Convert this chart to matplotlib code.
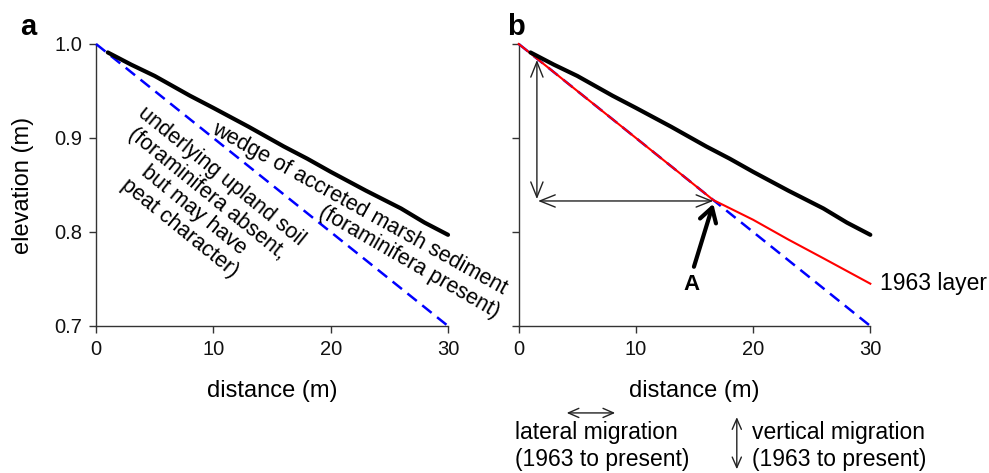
import matplotlib
matplotlib.use("Agg")
import matplotlib.pyplot as plt
from matplotlib.patches import FancyArrowPatch

plt.rcParams['font.family'] = ['Liberation Sans', 'DejaVu Sans']

# data
upland_x = [0, 30]
upland_y = [1.0, 0.7]

marsh_x = [1, 3, 5, 8, 10, 13, 16, 18, 20, 23, 26, 28, 30]
marsh_y = [0.991, 0.978, 0.966, 0.945, 0.932, 0.912, 0.891, 0.878, 0.864, 0.844, 0.825, 0.810, 0.797]

layer_x = [0, 5, 10, 16.6, 20, 23, 26, 30]
layer_y = [1.0, 0.95, 0.90, 0.834, 0.813, 0.792, 0.772, 0.745]

x_ticks = [0, 10, 20, 30]
y_ticks = [0.7, 0.8, 0.9, 1.0]
y_tick_labels = ['0.7', '0.8', '0.9', '1.0']

point_a = (16.6, 0.833)        # where the 1963 layer leaves the upland surface
vert_arrow_x = 1.55
vert_arrow_top = 0.983
horiz_arrow_x0 = 1.65
a_arrow_tail = (14.95, 0.763)
a_label = (14.7, 0.744)

SPINE = '#333333'

fig = plt.figure(figsize=(9.89, 4.73), dpi=100)
ax_a = fig.add_axes([0.0971, 0.3108, 0.3559, 0.5962])
ax_b = fig.add_axes([0.5245, 0.3108, 0.3555, 0.5962])


def style_axes(ax, ylabels=True):
    ax.set_xlim(0, 30)
    ax.set_ylim(0.7, 1.0)
    for s in ['top', 'right']:
        ax.spines[s].set_visible(False)
    for s in ['left', 'bottom']:
        ax.spines[s].set_color(SPINE)
        ax.spines[s].set_linewidth(1.0)
    ax.set_xticks(x_ticks)
    ax.set_yticks(y_ticks)
    ax.tick_params(direction='out', length=5, width=1.0, color=SPINE,
                   labelsize=14.5, pad=5, labelcolor='#111111')
    if ylabels:
        ax.set_yticklabels(y_tick_labels)
    else:
        ax.set_yticklabels([])
    ax.set_xlabel('distance (m)', fontsize=17)
    ax.xaxis.label.set_va('center')
    ax.xaxis.set_label_coords(0.5, -0.232)
    ax.grid(False)


def draw_surfaces(ax, with_layer=False):
    ax.plot(upland_x, upland_y, color='#0000ff', lw=1.8, dashes=(4.8, 2.8),
            clip_on=False, zorder=3)
    if with_layer:
        ax.plot(layer_x, layer_y, color='#ff0000', lw=1.5, clip_on=False, zorder=4)
    ax.plot(marsh_x, marsh_y, color='black', lw=3.0, solid_capstyle='round',
            clip_on=False, zorder=5)


# ---- panel a ----
style_axes(ax_a)
draw_surfaces(ax_a)
ax_a.set_ylabel('elevation (m)', fontsize=17)
ax_a.yaxis.label.set_va('center')
ax_a.yaxis.set_label_coords(-0.207, 0.5)

ax_a.text(22.4, 0.825, 'wedge of accreted marsh sediment', fontsize=15.5,
          rotation=-29, rotation_mode='anchor', ha='center', va='center',
          clip_on=False)
ax_a.text(26.7, 0.768, '(foraminifera present)', fontsize=15.5,
          rotation=-30, rotation_mode='anchor', ha='center', va='center',
          clip_on=False)
ax_a.text(8.9, 0.832, 'underlying upland soil\n(foraminifera absent,\nbut may have\npeat character)',
          fontsize=15.5, rotation=-39, rotation_mode='anchor', ha='center',
          va='center', multialignment='center', linespacing=1.08)

# ---- panel b ----
style_axes(ax_b, ylabels=False)
draw_surfaces(ax_b, with_layer=True)

thin = dict(arrowstyle='<->,head_length=0.55,head_width=0.22', color='#222222',
            lw=1.0, shrinkA=0, shrinkB=0, mutation_scale=20)
ax_b.annotate('', xy=(vert_arrow_x, point_a[1] + 0.002), xytext=(vert_arrow_x, vert_arrow_top),
              arrowprops=thin, zorder=6)
ax_b.annotate('', xy=point_a, xytext=(horiz_arrow_x0, point_a[1]),
              arrowprops=thin, zorder=6)

ax_b.annotate('', xy=(point_a[0], point_a[1] - 0.003), xytext=a_arrow_tail,
              arrowprops=dict(arrowstyle='->,head_length=0.5,head_width=0.3',
                              color='black', lw=3.0, shrinkA=0, shrinkB=0,
                              mutation_scale=20), zorder=7)
ax_b.text(a_label[0], a_label[1], 'A', fontsize=16, fontweight='bold',
          ha='center', va='center')

ax_b.text(layer_x[-1] + 0.85, layer_y[-1], '1963 layer', fontsize=16.5,
          ha='left', va='center', clip_on=False)

# panel letters
fig.text(0.020, 0.926, 'a', fontsize=21, fontweight='bold')
fig.text(0.513, 0.926, 'b', fontsize=21, fontweight='bold')

# key for the arrows below panel b
key = dict(arrowstyle='<->,head_length=0.5,head_width=0.22', color='#222222',
           lw=1.0, shrinkA=0, shrinkB=0, mutation_scale=15)
fig.add_artist(FancyArrowPatch((0.573, 0.127), (0.622, 0.127),
                               transform=fig.transFigure, **key))
fig.add_artist(FancyArrowPatch((0.745, 0.118), (0.745, 0.008),
                               transform=fig.transFigure, **key))

fig.text(0.521, 1 - 439 / 473, 'lateral migration', fontsize=16.5, va='baseline')
fig.text(0.521, 1 - 466 / 473, '(1963 to present)', fontsize=16.5, va='baseline')
fig.text(0.7604, 1 - 439 / 473, 'vertical migration', fontsize=16.5, va='baseline')
fig.text(0.7604, 1 - 466 / 473, '(1963 to present)', fontsize=16.5, va='baseline')

fig.savefig('out.png', dpi=100)
